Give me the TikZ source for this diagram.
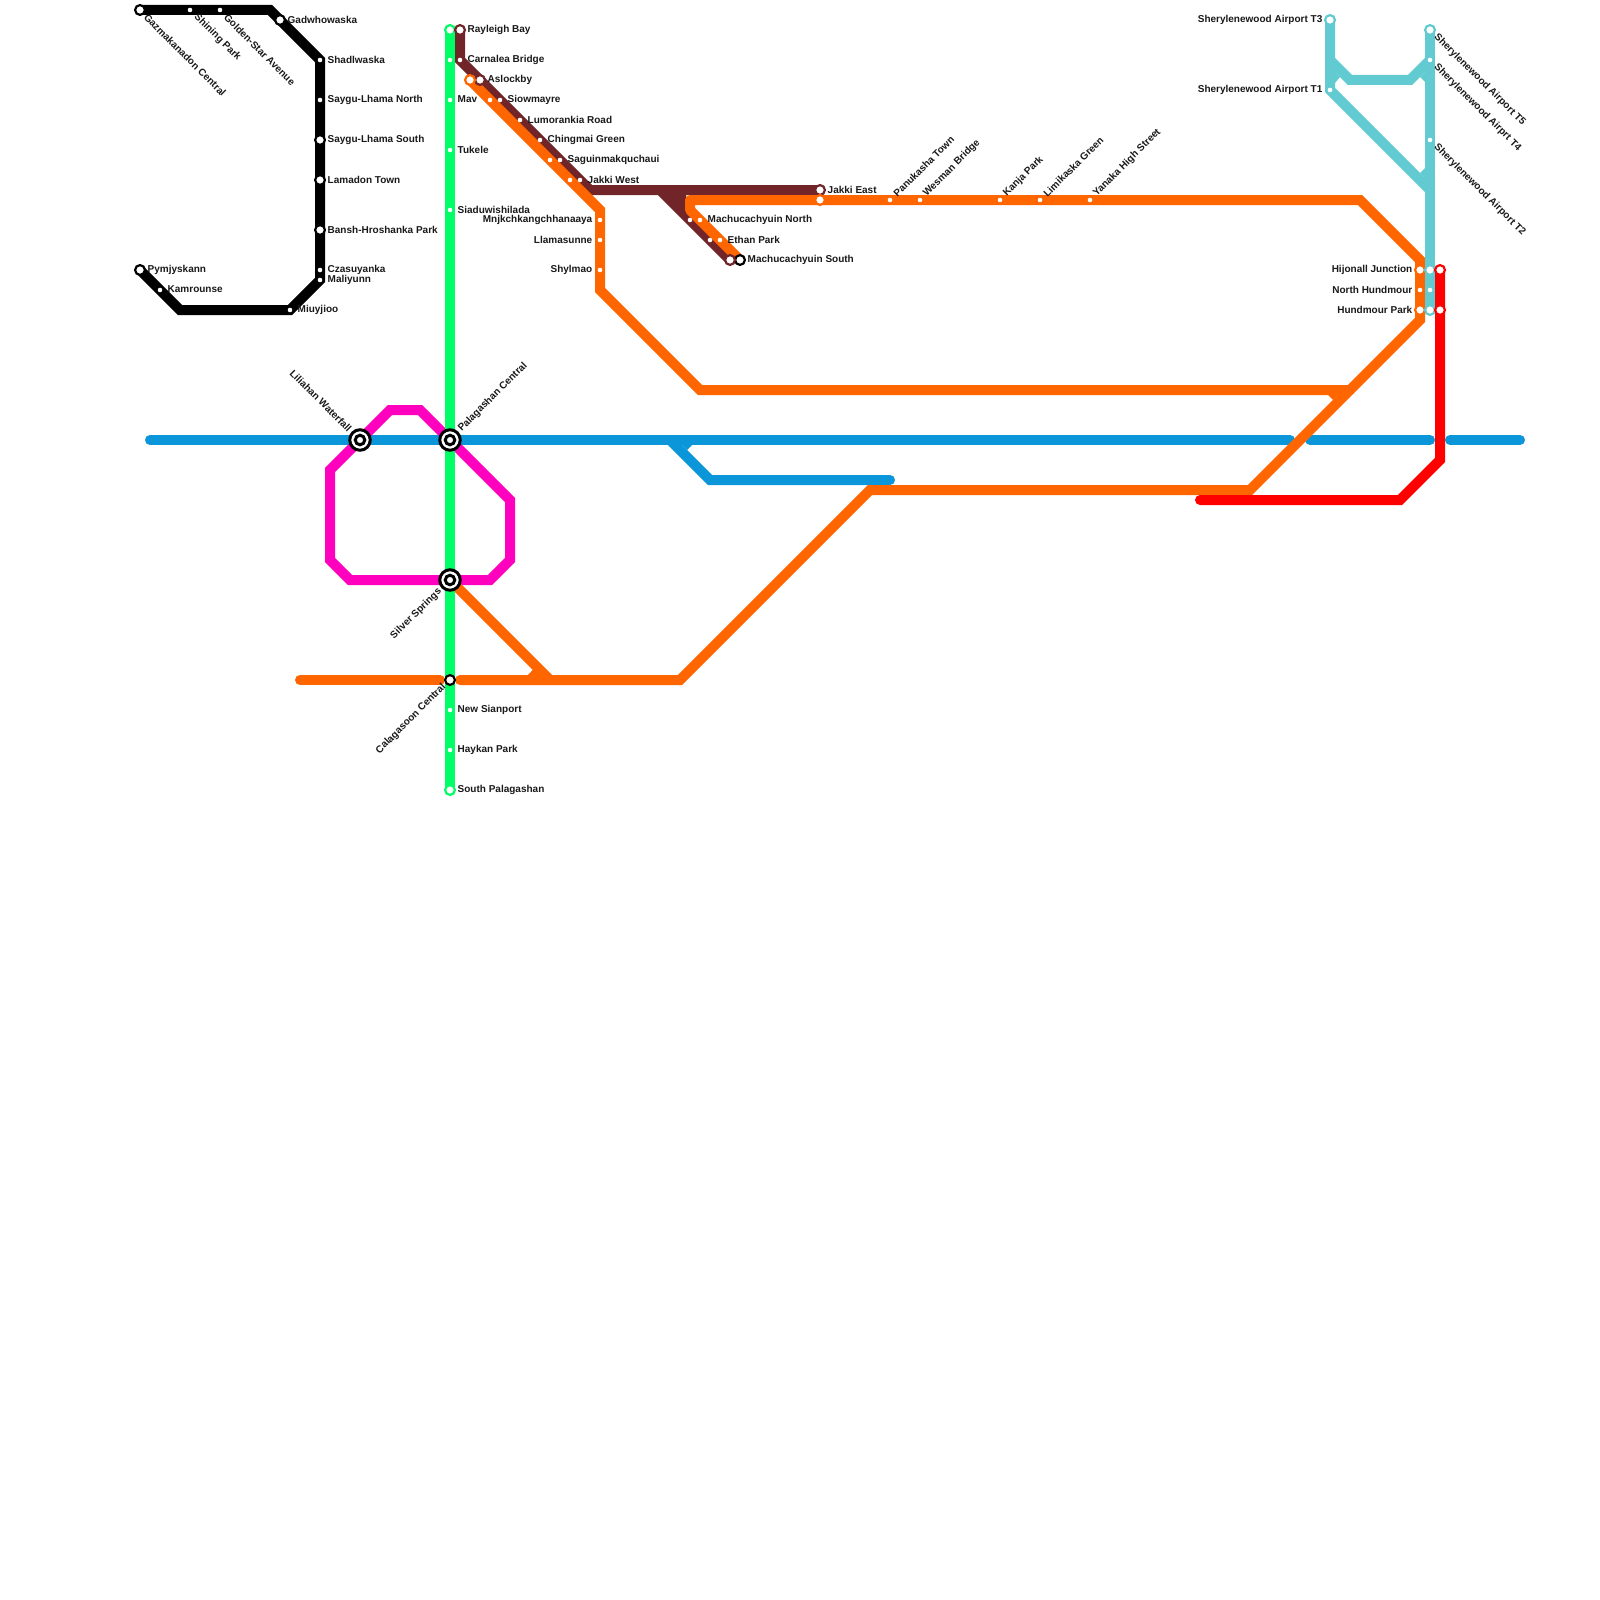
\documentclass[tikz,border=0pt]{standalone}
\usepackage{fontspec}
\setmainfont{Liberation Sans}
\usetikzlibrary{arrows.meta}
\definecolor{lineblue}{HTML}{0A96D8}
\definecolor{linepink}{HTML}{FF00BF}
\definecolor{linegreen}{HTML}{00FF66}
\definecolor{lineorange}{HTML}{FF6600}
\definecolor{linebrown}{HTML}{722528}
\definecolor{lineteal}{HTML}{62CBD2}
\definecolor{linered}{HTML}{FF0000}
\pgfdeclarelayer{lines}
\pgfsetlayers{lines,main}
\tikzset{
	route/.style={line width=10pt, line join=miter, line cap=round, draw=#1},
	notch/.style={fill=#1, draw=none},
	bigstop/.style={circle, fill=white, draw=#1, line width=2.2pt, minimum size=9.8pt, inner sep=0pt, outer sep=0pt},
	smallstop/.style={circle, fill=white, draw=none, minimum size=4.6pt, inner sep=0pt, outer sep=0pt},
	hubout/.style={circle, fill=white, draw=black, line width=3pt, minimum size=20.5pt, inner sep=0pt, outer sep=0pt},
	hubin/.style={circle, fill=white, draw=black, line width=3pt, minimum size=9.5pt, inner sep=0pt, outer sep=0pt},
	stoptext/.style={font=\fontsize{10}{12}\selectfont\bfseries, inner sep=0pt, text=black!90},
	toright/.style={stoptext, anchor=west, xshift=7.5pt, yshift=0.5pt},
	toleft/.style={stoptext, anchor=east, xshift=-7.5pt, yshift=0.5pt},
	tosouth/.style={stoptext, anchor=west, rotate=-45, xshift=8pt},
	tonorth/.style={stoptext, anchor=west, rotate=45, xshift=7pt},
	tosw/.style={stoptext, anchor=east, rotate=45, xshift=-8pt},
}
\begin{document}
\begin{tikzpicture}[x=1pt, y=-1pt]
	\useasboundingbox (0,0) rectangle (1600,1600);
	% big stops with a ring
	\foreach \nm/\px/\py/\col in {gazma/140/10/black, gadwho/280/20/black, sayguS/320/140/black, lamadon/320/180/black, bansh/320/230/black, pymjy/140/270/black, calaga/450/680/black, machuS/740/260/black, greenN/450/30/linegreen, greenS/450/790/linegreen, rayleigh/460/30/linebrown, aslock/480/80/linebrown, jakkiE/820/190/linebrown, machuB/730/260/linebrown, orangeA/470/80/lineorange, orangeJ/820/200/lineorange, hijonO/1420/270/lineorange, hundO/1420/310/lineorange, airT3/1330/20/lineteal, airT5/1430/30/lineteal, hijonT/1430/270/lineteal, hundT/1430/310/lineteal, hijonR/1440/270/linered, hundR/1440/310/linered}
		\node[bigstop=\col] (\nm) at (\px,\py) {};
	% plain stops
	\foreach \nm/\px/\py in {shining/190/10, golden/220/10, shadl/320/60, sayguN/320/100, czasu/320/270, maliy/320/280, miuyj/290/310, kamro/160/290, greenA/450/60, mav/450/100, tukele/450/150, siadu/450/210, sianp/450/710, haykan/450/750, carnal/460/60, siowm/500/100, lumor/520/120, chingm/540/140, saguin/560/160, jakkiW/580/180, orangeB/490/100, orangeC/550/160, orangeD/570/180, mnjk/600/220, llama/600/240, shyl/600/270, machuD/690/220, ethanD/710/240, machuN/700/220, ethan/720/240, panuk/890/200, wesman/920/200, kanja/1000/200, limik/1040/200, yanaka/1090/200, airT1/1330/90, airT4/1430/60, airT2/1430/140, northO/1420/290, northT/1430/290}
		\node[smallstop] (\nm) at (\px,\py) {};
	% interchanges
	\foreach \nm/\px/\py in {liliah/360/440, palag/450/440, silver/450/580} {
		\node[hubout] (\nm) at (\px,\py) {};
		\node[hubin] (\nm-in) at (\px,\py) {};
	}
	% stop names
	\foreach \nm/\txt in {gadwho/Gadwhowaska, shadl/Shadlwaska, sayguN/Saygu-Lhama North, sayguS/Saygu-Lhama South, lamadon/Lamadon Town, bansh/Bansh-Hroshanka Park, czasu/Czasuyanka, maliy/Maliyunn, miuyj/Miuyjioo, pymjy/Pymjyskann, kamro/Kamrounse, mav/Mav, tukele/Tukele, siadu/Siaduwishilada, sianp/New Sianport, haykan/Haykan Park, greenS/South Palagashan, rayleigh/Rayleigh Bay, carnal/Carnalea Bridge, aslock/Aslockby, siowm/Siowmayre, lumor/Lumorankia Road, chingm/Chingmai Green, saguin/Saguinmakquchaui, jakkiW/Jakki West, jakkiE/Jakki East, machuN/Machucachyuin North, ethan/Ethan Park, machuS/Machucachyuin South}
		\node[toright] (\nm-txt) at (\nm.center) {\txt};
	\foreach \nm/\txt in {mnjk/Mnjkchkangchhanaaya, llama/Llamasunne, shyl/Shylmao, airT3/Sherylenewood Airport T3, airT1/Sherylenewood Airport T1, hijonO/Hijonall Junction, northO/North Hundmour, hundO/Hundmour Park}
		\node[toleft] (\nm-txt) at (\nm.center) {\txt};
	\foreach \nm/\txt in {gazma/Gazmakanadon Central, shining/Shining Park, golden/Golden-Star Avenue, airT5/Sherylenewood Airport T5, airT4/Sherylenewood Airprt T4, airT2/Sherylenewood Airport T2}
		\node[tosouth] (\nm-txt) at (\nm.center) {\txt};
	\foreach \nm/\txt in {panuk/Panukasha Town, wesman/Wesman Bridge, kanja/Kanja Park, limik/Limikaska Green, yanaka/Yanaka High Street}
		\node[tonorth] (\nm-txt) at (\nm.center) {\txt};
	\node[tonorth, xshift=7pt] (palag-txt) at (palag.center) {Palagashan Central};
	\node[stoptext, anchor=east, rotate=-45, xshift=-14pt] (liliah-txt) at (liliah.center) {Liliahan Waterfall};
	\node[tosw, xshift=-6pt] (silver-txt) at (silver.center) {Silver Springs};
	\node[tosw] (calaga-txt) at (calaga.center) {Calagasoon Central};
	% the routes sit under the stops
	\begin{pgfonlayer}{lines}
		\coordinate (blueA) at (150,440);
		\coordinate (blueB) at (1290,440);
		\coordinate (blueC) at (1310,440);
		\coordinate (blueD) at (1430,440);
		\coordinate (blueE) at (1450,440);
		\coordinate (blueF) at (1520,440);
		\coordinate (blueG) at (890,480);
		\coordinate (orangeL) at (300,680);
		\coordinate (orangeM) at (440,680);
		\coordinate (orangeN) at (460,680);
		\coordinate (redEnd) at (1200,500);
		\draw[route=lineblue] (blueA) -- (blueB);
		\draw[route=lineblue] (blueC) -- (blueD);
		\draw[route=lineblue] (blueE) -- (blueF);
		\draw[route=lineblue] (670,440) -- (710,480) -- (blueG);
		\fill[notch=lineblue] (682,445) -- (692,445) -- (687,450) -- cycle;
		\draw[route=linepink] (390,410) -- (420,410) -- (510,500) -- (510,560) -- (490,580) -- (350,580) -- (330,560) -- (330,470) -- cycle;
		\draw[route=black] (gazma.center) -- (270,10) -- (320,60) -- (320,280) -- (miuyj.center) -- (180,310) -- (pymjy.center);
		\draw[route=linebrown] (rayleigh.center) -- (460,60) -- (590,190) -- (jakkiE.center);
		\draw[route=linebrown] (660,190) -- (machuB.center);
		\fill[notch=linebrown] (665,190) -- (686,190) -- (686,209) -- (675,205) -- cycle;
		\draw[route=lineorange] (orangeA.center) -- (600,210) -- (600,290) -- (700,390) -- (1350,390);
		\fill[notch=lineorange] (1328,395) -- (1338,395) -- (1333,400) -- cycle;
		\draw[route=lineorange, line join=round] (machuS.center) -- (690,210) -- (690,200) -- (orangeJ.center);
		\draw[route=lineorange] (orangeJ.center) -- (1360,200) -- (1420,260) -- (1420,320) -- (1250,490) -- (870,490) -- (680,680) -- (orangeN);
		\draw[route=lineorange] (orangeL) -- (orangeM);
		\draw[route=lineorange] (silver.center) -- (550,680);
		\fill[notch=lineorange] (528,675) -- (540,675) -- (534,668.5) -- cycle;
		\draw[route=lineteal] (airT3.center) -- (airT1.center) -- (1430,190);
		\draw[route=lineteal] (airT5.center) -- (hundT.center);
		\draw[route=lineteal] (1330,60) -- (1350,80) -- (1410,80) -- (airT4.center);
		\fill[notch=lineteal] (1335,72) -- (1340,77) -- (1335,83) -- cycle;
		\fill[notch=lineteal] (1425,72) -- (1420,77) -- (1425,82) -- cycle;
		\fill[notch=lineteal] (1425,168) -- (1420,173) -- (1425,178) -- cycle;
		\draw[route=linered] (hijonR.center) -- (1440,460) -- (1400,500) -- (redEnd);
		\draw[route=linegreen] (greenN.center) -- (greenS.center);
	\end{pgfonlayer}
\end{tikzpicture}
\end{document}
